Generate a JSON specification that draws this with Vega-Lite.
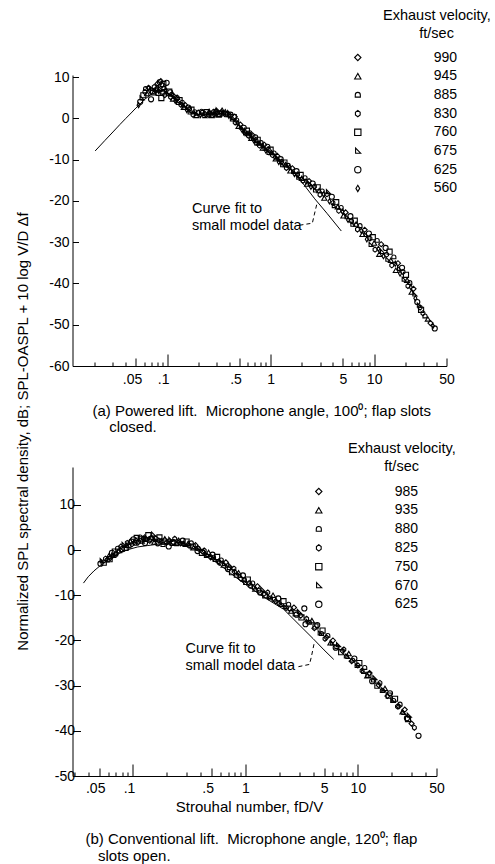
{
  "$schema": "https://vega.github.io/schema/vega-lite/v6.json",
  "background": "white",
  "padding": {"left": 14.5, "top": 9, "right": 0, "bottom": 0},
  "autosize": {"type": "pad"},
  "bounds": "flush",
  "spacing": 101,
  "config": {
    "font": "Liberation Sans",
    "view": {"stroke": null},
    "axis": {"grid": false, "domainColor": "black", "tickColor": "black", "labelColor": "black", "titleColor": "black", "labelFontSize": 14, "titleFontSize": 15, "titleFontWeight": "normal", "domainWidth": 1, "tickWidth": 1, "labelFlush": false, "labelOverlap": false},
    "legend": {"labelColor": "black", "titleColor": "black"},
    "title": {"color": "black", "fontWeight": "normal"}
  },
  "datasets": {
    "ptsA": [
      {"x":0.053,"y":3.2,"v":"560"},{"x":0.055,"y":4.0,"v":"625"},{"x":0.057,"y":4.9,"v":"675"},{"x":0.059,"y":5.6,"v":"760"},
      {"x":0.061,"y":6.4,"v":"830"},{"x":0.062,"y":7.2,"v":"885"},{"x":0.064,"y":6.0,"v":"945"},{"x":0.066,"y":7.4,"v":"990"},
      {"x":0.068,"y":6.8,"v":"560"},{"x":0.070,"y":4.6,"v":"625"},{"x":0.071,"y":7.2,"v":"675"},{"x":0.073,"y":6.5,"v":"760"},
      {"x":0.075,"y":7.6,"v":"830"},{"x":0.077,"y":6.9,"v":"885"},{"x":0.079,"y":7.3,"v":"945"},{"x":0.081,"y":8.4,"v":"990"},
      {"x":0.083,"y":6.6,"v":"560"},{"x":0.085,"y":8.8,"v":"625"},{"x":0.086,"y":7.2,"v":"675"},{"x":0.088,"y":4.9,"v":"760"},
      {"x":0.089,"y":8.1,"v":"830"},{"x":0.091,"y":6.3,"v":"885"},{"x":0.093,"y":7.5,"v":"945"},{"x":0.095,"y":5.6,"v":"990"},
      {"x":0.097,"y":6.9,"v":"560"},{"x":0.099,"y":8.6,"v":"625"},{"x":0.102,"y":5.9,"v":"675"},{"x":0.105,"y":6.5,"v":"760"},
      {"x":0.108,"y":5.2,"v":"830"},{"x":0.111,"y":5.8,"v":"885"},{"x":0.114,"y":4.7,"v":"945"},{"x":0.117,"y":5.3,"v":"990"},
      {"x":0.12,"y":4.2,"v":"560"},{"x":0.124,"y":4.9,"v":"625"},{"x":0.128,"y":3.8,"v":"675"},{"x":0.132,"y":4.4,"v":"760"},
      {"x":0.136,"y":3.3,"v":"830"},{"x":0.14,"y":3.9,"v":"885"},{"x":0.145,"y":2.7,"v":"945"},{"x":0.15,"y":3.2,"v":"990"},
      {"x":0.155,"y":2.0,"v":"560"},{"x":0.16,"y":2.6,"v":"625"},{"x":0.166,"y":1.5,"v":"675"},{"x":0.172,"y":2.1,"v":"760"},
      {"x":0.178,"y":0.9,"v":"830"},{"x":0.185,"y":1.6,"v":"885"},{"x":0.192,"y":0.7,"v":"945"},{"x":0.2,"y":1.4,"v":"990"},
      {"x":0.21,"y":0.8,"v":"560"},{"x":0.22,"y":1.3,"v":"625"},{"x":0.23,"y":0.6,"v":"675"},{"x":0.24,"y":1.5,"v":"760"},
      {"x":0.25,"y":0.9,"v":"830"},{"x":0.26,"y":1.2,"v":"885"},{"x":0.27,"y":0.7,"v":"945"},{"x":0.28,"y":1.6,"v":"990"},
      {"x":0.29,"y":1.0,"v":"560"},{"x":0.30,"y":1.4,"v":"625"},{"x":0.31,"y":2.0,"v":"675"},{"x":0.32,"y":1.1,"v":"760"},
      {"x":0.335,"y":1.5,"v":"830"},{"x":0.35,"y":1.2,"v":"885"},{"x":0.365,"y":1.6,"v":"945"},{"x":0.38,"y":1.0,"v":"990"},
      {"x":0.395,"y":0.6,"v":"560"},{"x":0.41,"y":0.9,"v":"625"},{"x":0.425,"y":-0.2,"v":"675"},{"x":0.44,"y":0.3,"v":"760"},
      {"x":0.455,"y":-1.0,"v":"830"},{"x":0.47,"y":-0.4,"v":"885"},{"x":0.49,"y":-1.9,"v":"945"},{"x":0.51,"y":-1.5,"v":"990"},
      {"x":0.53,"y":-2.8,"v":"560"},{"x":0.55,"y":-2.3,"v":"625"},{"x":0.57,"y":-3.6,"v":"675"},{"x":0.59,"y":-3.0,"v":"760"},
      {"x":0.61,"y":-4.2,"v":"830"},{"x":0.63,"y":-3.5,"v":"885"},{"x":0.65,"y":-4.8,"v":"945"},{"x":0.67,"y":-4.1,"v":"990"},
      {"x":0.69,"y":-5.4,"v":"560"},{"x":0.71,"y":-4.6,"v":"625"},{"x":0.73,"y":-6.0,"v":"675"},{"x":0.75,"y":-5.2,"v":"760"},
      {"x":0.78,"y":-6.6,"v":"830"},{"x":0.81,"y":-5.9,"v":"885"},{"x":0.84,"y":-7.2,"v":"945"},{"x":0.87,"y":-6.4,"v":"990"},
      {"x":0.9,"y":-7.8,"v":"560"},{"x":0.93,"y":-6.9,"v":"625"},{"x":0.96,"y":-8.3,"v":"675"},{"x":1.0,"y":-7.6,"v":"760"},
      {"x":1.04,"y":-8.9,"v":"830"},{"x":1.08,"y":-8.4,"v":"885"},{"x":1.12,"y":-9.8,"v":"945"},{"x":1.16,"y":-9.1,"v":"990"},
      {"x":1.2,"y":-10.6,"v":"560"},{"x":1.25,"y":-9.9,"v":"625"},{"x":1.3,"y":-11.3,"v":"675"},{"x":1.36,"y":-10.7,"v":"760"},
      {"x":1.42,"y":-12.0,"v":"830"},{"x":1.48,"y":-11.4,"v":"885"},{"x":1.55,"y":-12.7,"v":"945"},{"x":1.62,"y":-12.1,"v":"990"},
      {"x":1.7,"y":-13.5,"v":"560"},{"x":1.78,"y":-12.8,"v":"625"},{"x":1.86,"y":-14.3,"v":"675"},{"x":1.95,"y":-13.7,"v":"760"},
      {"x":2.05,"y":-15.1,"v":"830"},{"x":2.15,"y":-14.4,"v":"885"},{"x":2.25,"y":-15.9,"v":"945"},{"x":2.35,"y":-15.2,"v":"990"},
      {"x":2.45,"y":-16.6,"v":"560"},{"x":2.55,"y":-15.8,"v":"625"},{"x":2.7,"y":-17.4,"v":"675"},{"x":2.85,"y":-16.7,"v":"760"},
      {"x":3.0,"y":-18.5,"v":"830"},{"x":3.15,"y":-17.6,"v":"885"},{"x":3.3,"y":-19.3,"v":"945"},{"x":3.5,"y":-18.4,"v":"990"},
      {"x":3.7,"y":-20.1,"v":"560"},{"x":3.9,"y":-19.0,"v":"625"},{"x":4.1,"y":-21.2,"v":"675"},{"x":4.3,"y":-20.3,"v":"760"},
      {"x":4.55,"y":-22.4,"v":"830"},{"x":4.8,"y":-21.6,"v":"885"},{"x":5.05,"y":-23.6,"v":"945"},{"x":5.3,"y":-22.8,"v":"990"},
      {"x":5.6,"y":-24.6,"v":"560"},{"x":5.9,"y":-23.7,"v":"625"},{"x":6.2,"y":-25.7,"v":"675"},{"x":6.5,"y":-24.8,"v":"760"},
      {"x":6.9,"y":-26.9,"v":"830"},{"x":7.3,"y":-26.0,"v":"885"},{"x":7.7,"y":-28.1,"v":"945"},{"x":8.1,"y":-27.0,"v":"990"},
      {"x":8.5,"y":-29.3,"v":"560"},{"x":8.9,"y":-27.9,"v":"625"},{"x":9.3,"y":-30.6,"v":"675"},{"x":9.7,"y":-28.8,"v":"760"},
      {"x":10.2,"y":-31.8,"v":"830"},{"x":10.7,"y":-29.6,"v":"885"},{"x":11.2,"y":-32.9,"v":"945"},{"x":11.7,"y":-30.5,"v":"990"},
      {"x":12.3,"y":-33.4,"v":"560"},{"x":12.9,"y":-31.4,"v":"625"},{"x":13.5,"y":-34.2,"v":"675"},{"x":14.1,"y":-32.3,"v":"760"},
      {"x":14.8,"y":-35.6,"v":"830"},{"x":15.5,"y":-33.6,"v":"885"},{"x":16.2,"y":-36.8,"v":"945"},{"x":17.0,"y":-35.1,"v":"990"},
      {"x":17.8,"y":-37.6,"v":"560"},{"x":18.6,"y":-36.2,"v":"625"},{"x":19.4,"y":-39.0,"v":"675"},{"x":20.3,"y":-37.9,"v":"760"},
      {"x":21.2,"y":-40.6,"v":"830"},{"x":22.1,"y":-39.8,"v":"885"},{"x":23.0,"y":-42.1,"v":"945"},{"x":24.0,"y":-41.3,"v":"990"},
      {"x":25.0,"y":-43.6,"v":"560"},{"x":26.1,"y":-44.5,"v":"625"},{"x":27.2,"y":-45.3,"v":"675"},{"x":28.4,"y":-46.4,"v":"760"},
      {"x":29.6,"y":-47.2,"v":"830"},{"x":31.0,"y":-47.9,"v":"885"},{"x":33.0,"y":-48.6,"v":"945"},{"x":35.0,"y":-49.6,"v":"990"},
      {"x":37.0,"y":-50.3,"v":"560"},{"x":38.5,"y":-50.9,"v":"625"},
      {"x":0.074,"y":6.2,"v":"945"},{"x":0.082,"y":6.0,"v":"885"},{"x":0.092,"y":8.3,"v":"760"},{"x":0.087,"y":9.0,"v":"990"},
      {"x":0.107,"y":6.3,"v":"625"},{"x":0.125,"y":5.1,"v":"945"},{"x":0.142,"y":3.1,"v":"560"},{"x":0.165,"y":2.3,"v":"830"},
      {"x":0.19,"y":1.2,"v":"675"},{"x":0.215,"y":1.7,"v":"885"},{"x":0.235,"y":1.0,"v":"990"},{"x":0.255,"y":1.6,"v":"560"},
      {"x":0.275,"y":0.9,"v":"625"},{"x":0.295,"y":1.7,"v":"830"},{"x":0.315,"y":0.8,"v":"945"},{"x":0.34,"y":1.9,"v":"560"},
      {"x":0.37,"y":1.0,"v":"625"},{"x":0.4,"y":1.3,"v":"675"},{"x":0.45,"y":0.4,"v":"990"},{"x":0.48,"y":-1.2,"v":"560"},
      {"x":0.52,"y":-2.2,"v":"675"},{"x":0.56,"y":-3.3,"v":"830"},{"x":0.6,"y":-3.7,"v":"945"},{"x":0.64,"y":-4.0,"v":"560"},
      {"x":0.68,"y":-4.9,"v":"675"},{"x":0.72,"y":-5.3,"v":"830"},{"x":0.77,"y":-6.0,"v":"945"},{"x":0.83,"y":-6.6,"v":"560"},
      {"x":0.88,"y":-7.3,"v":"675"},{"x":0.95,"y":-7.5,"v":"830"},{"x":1.02,"y":-8.3,"v":"945"},{"x":1.1,"y":-9.4,"v":"560"},
      {"x":1.18,"y":-9.7,"v":"675"},{"x":1.28,"y":-10.5,"v":"830"},{"x":1.4,"y":-11.2,"v":"945"},{"x":1.52,"y":-11.9,"v":"560"},
      {"x":1.66,"y":-12.9,"v":"675"},{"x":1.82,"y":-13.6,"v":"830"},{"x":2.0,"y":-14.5,"v":"945"},{"x":2.2,"y":-15.3,"v":"560"},
      {"x":2.4,"y":-15.9,"v":"675"},{"x":2.65,"y":-16.5,"v":"830"},{"x":2.95,"y":-17.5,"v":"945"},{"x":3.25,"y":-18.4,"v":"560"},
      {"x":3.6,"y":-17.8,"v":"675"},{"x":4.0,"y":-20.5,"v":"830"},{"x":4.45,"y":-21.4,"v":"945"},{"x":4.95,"y":-22.6,"v":"560"},
      {"x":5.45,"y":-23.9,"v":"675"},{"x":6.05,"y":-24.9,"v":"830"},{"x":6.7,"y":-25.6,"v":"945"},{"x":7.5,"y":-27.2,"v":"560"},
      {"x":8.3,"y":-28.2,"v":"675"},{"x":9.1,"y":-29.1,"v":"830"},{"x":10.0,"y":-30.2,"v":"945"},{"x":11.0,"y":-31.6,"v":"560"},
      {"x":12.0,"y":-32.3,"v":"675"},{"x":13.2,"y":-33.0,"v":"830"},{"x":14.5,"y":-34.4,"v":"945"},{"x":16.0,"y":-35.2,"v":"560"},
      {"x":17.5,"y":-36.4,"v":"675"},{"x":19.0,"y":-37.2,"v":"830"},{"x":20.8,"y":-39.2,"v":"945"},{"x":22.6,"y":-40.9,"v":"560"},
      {"x":24.6,"y":-42.6,"v":"675"},{"x":27.8,"y":-45.8,"v":"830"}
    ],
    "curveA": [
      {"x":0.0202,"y":-7.9},{"x":0.025,"y":-5.4},{"x":0.03,"y":-3.3},{"x":0.035,"y":-1.5},{"x":0.04,"y":0.0},
      {"x":0.045,"y":1.3},{"x":0.05,"y":2.5},{"x":0.055,"y":3.5},{"x":0.06,"y":4.5},{"x":0.07,"y":5.8},
      {"x":0.08,"y":6.4},{"x":0.09,"y":6.5},{"x":0.1,"y":6.2},{"x":0.12,"y":5.0},{"x":0.14,"y":3.5},
      {"x":0.16,"y":2.3},{"x":0.18,"y":1.4},{"x":0.2,"y":1.0},{"x":0.25,"y":1.0},{"x":0.3,"y":1.1},
      {"x":0.35,"y":1.2},{"x":0.4,"y":0.5},{"x":0.5,"y":-1.8},{"x":0.6,"y":-3.8},{"x":0.8,"y":-6.3},
      {"x":1.0,"y":-8.1},{"x":1.5,"y":-11.8},{"x":2.0,"y":-15.4},{"x":2.67,"y":-19.5},{"x":3.5,"y":-23.0},{"x":4.82,"y":-27.3}
    ],
    "ptsB": [
      {"x":0.0514,"y":-3.0,"v":"625"},{"x":0.053,"y":-2.4,"v":"670"},{"x":0.055,"y":-2.8,"v":"750"},{"x":0.057,"y":-1.9,"v":"825"},
      {"x":0.059,"y":-2.2,"v":"880"},{"x":0.061,"y":-1.3,"v":"935"},{"x":0.063,"y":-1.7,"v":"985"},{"x":0.065,"y":-0.6,"v":"625"},
      {"x":0.067,"y":-1.2,"v":"670"},{"x":0.069,"y":-0.3,"v":"750"},{"x":0.071,"y":-0.8,"v":"825"},{"x":0.073,"y":0.4,"v":"880"},
      {"x":0.075,"y":-0.1,"v":"935"},{"x":0.078,"y":0.8,"v":"985"},{"x":0.08,"y":0.2,"v":"625"},{"x":0.083,"y":1.2,"v":"670"},
      {"x":0.086,"y":0.5,"v":"750"},{"x":0.089,"y":1.6,"v":"825"},{"x":0.092,"y":0.9,"v":"880"},{"x":0.095,"y":2.0,"v":"935"},
      {"x":0.098,"y":1.3,"v":"985"},{"x":0.101,"y":2.4,"v":"625"},{"x":0.105,"y":1.5,"v":"670"},{"x":0.108,"y":2.7,"v":"750"},
      {"x":0.112,"y":1.8,"v":"825"},{"x":0.116,"y":2.9,"v":"880"},{"x":0.12,"y":2.0,"v":"935"},{"x":0.124,"y":2.6,"v":"985"},
      {"x":0.128,"y":1.6,"v":"625"},{"x":0.132,"y":2.8,"v":"670"},{"x":0.137,"y":3.3,"v":"750"},{"x":0.141,"y":2.1,"v":"825"},
      {"x":0.146,"y":2.7,"v":"880"},{"x":0.152,"y":3.5,"v":"670"},{"x":0.155,"y":1.8,"v":"935"},{"x":0.16,"y":2.6,"v":"985"},
      {"x":0.166,"y":1.5,"v":"625"},{"x":0.172,"y":2.8,"v":"750"},{"x":0.178,"y":2.0,"v":"825"},{"x":0.185,"y":1.2,"v":"880"},
      {"x":0.192,"y":2.5,"v":"935"},{"x":0.2,"y":1.7,"v":"985"},{"x":0.208,"y":0.8,"v":"625"},{"x":0.216,"y":2.3,"v":"670"},
      {"x":0.225,"y":1.6,"v":"750"},{"x":0.235,"y":2.5,"v":"825"},{"x":0.245,"y":1.4,"v":"880"},{"x":0.255,"y":2.2,"v":"935"},
      {"x":0.265,"y":1.5,"v":"985"},{"x":0.277,"y":2.1,"v":"625"},{"x":0.29,"y":1.2,"v":"670"},{"x":0.3,"y":1.9,"v":"750"},
      {"x":0.315,"y":1.0,"v":"825"},{"x":0.33,"y":1.6,"v":"880"},{"x":0.345,"y":0.5,"v":"935"},{"x":0.36,"y":1.1,"v":"985"},
      {"x":0.375,"y":-0.2,"v":"625"},{"x":0.39,"y":0.5,"v":"670"},{"x":0.41,"y":-0.6,"v":"750"},{"x":0.43,"y":-0.1,"v":"825"},
      {"x":0.45,"y":-1.2,"v":"880"},{"x":0.47,"y":-0.5,"v":"935"},{"x":0.49,"y":-1.6,"v":"985"},{"x":0.51,"y":-1.0,"v":"625"},
      {"x":0.535,"y":-2.1,"v":"670"},{"x":0.56,"y":-1.5,"v":"750"},{"x":0.585,"y":-2.8,"v":"825"},{"x":0.61,"y":-2.2,"v":"880"},
      {"x":0.64,"y":-3.3,"v":"935"},{"x":0.67,"y":-2.7,"v":"985"},{"x":0.70,"y":-4.2,"v":"625"},{"x":0.73,"y":-3.4,"v":"670"},
      {"x":0.76,"y":-4.9,"v":"750"},{"x":0.79,"y":-4.1,"v":"825"},{"x":0.83,"y":-5.6,"v":"880"},{"x":0.87,"y":-5.0,"v":"935"},
      {"x":0.91,"y":-6.3,"v":"985"},{"x":0.95,"y":-5.6,"v":"625"},{"x":1.0,"y":-7.2,"v":"670"},{"x":1.05,"y":-6.5,"v":"750"},
      {"x":1.1,"y":-7.9,"v":"825"},{"x":1.16,"y":-7.3,"v":"880"},{"x":1.22,"y":-8.6,"v":"935"},{"x":1.28,"y":-8.0,"v":"985"},
      {"x":1.35,"y":-9.4,"v":"625"},{"x":1.42,"y":-8.7,"v":"670"},{"x":1.5,"y":-10.0,"v":"750"},{"x":1.58,"y":-9.4,"v":"825"},
      {"x":1.67,"y":-10.6,"v":"880"},{"x":1.76,"y":-10.0,"v":"935"},{"x":1.86,"y":-11.3,"v":"985"},{"x":1.96,"y":-10.7,"v":"625"},
      {"x":2.07,"y":-12.1,"v":"670"},{"x":2.18,"y":-11.3,"v":"750"},{"x":2.3,"y":-12.8,"v":"825"},{"x":2.42,"y":-12.0,"v":"880"},
      {"x":2.55,"y":-13.5,"v":"935"},{"x":2.7,"y":-12.7,"v":"985"},{"x":2.85,"y":-14.3,"v":"625"},{"x":3.0,"y":-13.6,"v":"670"},
      {"x":3.15,"y":-14.9,"v":"750"},{"x":3.34,"y":-12.9,"v":"625"},{"x":3.42,"y":-16.4,"v":"625"},{"x":3.5,"y":-15.2,"v":"825"},
      {"x":3.7,"y":-16.0,"v":"880"},{"x":3.9,"y":-15.6,"v":"935"},{"x":4.1,"y":-17.3,"v":"985"},{"x":4.35,"y":-16.6,"v":"625"},
      {"x":4.6,"y":-18.4,"v":"670"},{"x":4.85,"y":-17.8,"v":"750"},{"x":5.1,"y":-19.6,"v":"825"},{"x":5.4,"y":-18.9,"v":"880"},
      {"x":5.7,"y":-20.5,"v":"935"},{"x":6.0,"y":-20.0,"v":"985"},{"x":6.35,"y":-21.6,"v":"625"},{"x":6.7,"y":-21.0,"v":"670"},
      {"x":7.1,"y":-22.6,"v":"750"},{"x":7.5,"y":-22.0,"v":"825"},{"x":7.9,"y":-23.5,"v":"880"},{"x":8.3,"y":-22.9,"v":"935"},
      {"x":8.8,"y":-24.6,"v":"985"},{"x":9.3,"y":-24.0,"v":"625"},{"x":9.8,"y":-25.6,"v":"670"},{"x":10.3,"y":-25.0,"v":"750"},
      {"x":10.9,"y":-26.7,"v":"825"},{"x":11.5,"y":-26.0,"v":"880"},{"x":12.1,"y":-27.8,"v":"935"},{"x":12.7,"y":-27.2,"v":"985"},
      {"x":13.4,"y":-29.0,"v":"625"},{"x":14.1,"y":-28.3,"v":"670"},{"x":14.9,"y":-30.0,"v":"750"},{"x":15.7,"y":-29.4,"v":"825"},
      {"x":16.5,"y":-31.1,"v":"880"},{"x":17.4,"y":-30.6,"v":"935"},{"x":18.3,"y":-32.3,"v":"985"},{"x":19.3,"y":-31.7,"v":"625"},
      {"x":20.3,"y":-33.3,"v":"670"},{"x":21.4,"y":-32.9,"v":"750"},{"x":22.5,"y":-34.6,"v":"825"},{"x":23.7,"y":-34.1,"v":"880"},
      {"x":24.9,"y":-35.8,"v":"935"},{"x":26.1,"y":-35.3,"v":"985"},{"x":27.3,"y":-37.2,"v":"625"},{"x":28.5,"y":-36.6,"v":"670"},
      {"x":31.8,"y":-39.3,"v":"825"},{"x":34.6,"y":-41.1,"v":"625"},
      {"x":0.062,"y":-2.0,"v":"750"},{"x":0.07,"y":-0.9,"v":"880"},{"x":0.079,"y":0.1,"v":"670"},{"x":0.088,"y":1.1,"v":"935"},
      {"x":0.097,"y":1.9,"v":"625"},{"x":0.107,"y":2.1,"v":"985"},{"x":0.118,"y":2.4,"v":"750"},{"x":0.13,"y":2.3,"v":"880"},
      {"x":0.143,"y":2.5,"v":"625"},{"x":0.158,"y":2.3,"v":"670"},{"x":0.17,"y":2.1,"v":"985"},{"x":0.19,"y":1.9,"v":"750"},
      {"x":0.21,"y":2.0,"v":"880"},{"x":0.23,"y":1.8,"v":"625"},{"x":0.26,"y":1.8,"v":"670"},{"x":0.28,"y":1.4,"v":"825"},
      {"x":0.31,"y":1.5,"v":"935"},{"x":0.34,"y":0.8,"v":"750"},{"x":0.38,"y":0.4,"v":"880"},{"x":0.42,"y":-0.4,"v":"985"},
      {"x":0.46,"y":-1.0,"v":"670"},{"x":0.52,"y":-1.6,"v":"880"},{"x":0.58,"y":-2.5,"v":"985"},{"x":0.65,"y":-3.0,"v":"670"},
      {"x":0.72,"y":-3.9,"v":"880"},{"x":0.8,"y":-4.8,"v":"985"},{"x":0.89,"y":-5.6,"v":"670"},{"x":0.98,"y":-6.6,"v":"880"},
      {"x":1.08,"y":-7.3,"v":"985"},{"x":1.2,"y":-8.2,"v":"670"},{"x":1.32,"y":-8.9,"v":"880"},{"x":1.46,"y":-9.7,"v":"985"},
      {"x":1.62,"y":-10.3,"v":"670"},{"x":1.8,"y":-10.9,"v":"880"},{"x":2.0,"y":-11.8,"v":"985"},{"x":2.25,"y":-12.5,"v":"670"},
      {"x":2.5,"y":-13.0,"v":"880"},{"x":2.8,"y":-14.0,"v":"750"},{"x":3.1,"y":-14.5,"v":"985"},{"x":3.6,"y":-15.8,"v":"670"},
      {"x":4.2,"y":-16.9,"v":"750"},{"x":4.75,"y":-18.5,"v":"880"},{"x":5.25,"y":-19.3,"v":"985"},{"x":5.9,"y":-20.6,"v":"670"},
      {"x":6.5,"y":-21.4,"v":"880"},{"x":7.3,"y":-22.3,"v":"985"},{"x":8.1,"y":-23.6,"v":"670"},{"x":9.0,"y":-24.4,"v":"880"},
      {"x":10.0,"y":-25.5,"v":"985"},{"x":11.2,"y":-26.9,"v":"670"},{"x":12.4,"y":-27.6,"v":"750"},{"x":13.8,"y":-28.8,"v":"880"},
      {"x":15.3,"y":-29.9,"v":"985"},{"x":16.9,"y":-31.0,"v":"670"},{"x":18.8,"y":-32.2,"v":"750"},{"x":20.8,"y":-33.3,"v":"880"},
      {"x":23.1,"y":-34.6,"v":"985"},{"x":25.5,"y":-36.0,"v":"670"},{"x":27.9,"y":-37.4,"v":"750"},{"x":30.0,"y":-38.4,"v":"985"}
    ],
    "curveB": [
      {"x":0.0363,"y":-7.3},{"x":0.04,"y":-5.9},{"x":0.045,"y":-4.6},{"x":0.0514,"y":-3.4},{"x":0.06,"y":-2.2},
      {"x":0.07,"y":-1.1},{"x":0.0774,"y":-0.6},{"x":0.09,"y":0.1},{"x":0.11,"y":0.7},{"x":0.134,"y":1.0},
      {"x":0.165,"y":1.3},{"x":0.2,"y":1.4},{"x":0.25,"y":1.3},{"x":0.3,"y":0.9},{"x":0.35,"y":0.3},
      {"x":0.4,"y":-0.5},{"x":0.5,"y":-2.0},{"x":0.6,"y":-3.4},{"x":0.8,"y":-5.8},{"x":1.0,"y":-7.6},
      {"x":1.5,"y":-10.6},{"x":2.19,"y":-13.1},{"x":3.0,"y":-16.5},{"x":4.0,"y":-19.6},{"x":5.0,"y":-22.1},{"x":6.1,"y":-24.2}
    ]
  },
  "vconcat": [
    {
      "width": 374,
      "height": 291,
      "title": {"text": ["(a) Powered lift.\u00a0 Microphone angle, 100⁰; flap slots", "\u200b\u00a0\u00a0\u00a0\u00a0closed."], "orient": "bottom", "frame": "group", "anchor": "start", "dx": 20, "offset": 18, "lineHeight": 16, "fontSize": 15, "fontWeight": "normal", "baseline": "top"},
      "encoding": {
        "y": {"field": "y", "type": "quantitative", "scale": {"domain": [-60, 10.5], "nice": false, "zero": false},
          "axis": {"values": [-60,-50,-40,-30,-20,-10,0,10], "tickSize": -6, "labelPadding": 9.5, "labelExpr": "toString(datum.value)", "labelFontSize": 14, "title": null}}
      },
      "layer": [
        {
          "data": {"name": "ptsA"},
          "mark": {"type": "point", "filled": false, "size": 26, "strokeWidth": 1.1, "color": "black", "opacity": 1},
          "encoding": {
            "x": {"field": "x", "type": "quantitative", "scale": {"type": "log", "domain": [0.0122, 50], "nice": false},
              "axis": {"orient": "bottom", "values": [0.02,0.03,0.04,0.06,0.07,0.08,0.09,0.2,0.3,0.4,0.6,0.7,0.8,0.9,2,3,4,6,7,8,9,20,30,40], "tickSize": -4, "labels": false, "domain": true, "title": null}},
            "shape": {"field": "v", "type": "nominal",
              "scale": {"domain": ["990","945","885","830","760","675","625","560"],
                "range": ["diamond", "triangle-up", "M-0.8,0.7L0.8,0.7L0.8,0A0.8,0.8,0,0,0,-0.8,0Z", "M0,-1L0.75,-0.4L0.75,0.4L0,1L-0.75,0.4L-0.75,-0.4Z", "square", "M-0.7,-0.9L-0.7,0.7L0.9,0.7Z", "circle", "M0,-1L0.6,0L0,1L-0.6,0Z"]},
              "legend": {"orient": "none", "legendX": 278.3, "legendY": -66,
                "title": ["\u200b\u00a0\u00a0\u00a0\u00a0\u00a0\u00a0\u00a0\u00a0Exhaust velocity,", "\u200b\u00a0\u00a0\u00a0\u00a0\u00a0\u00a0\u00a0\u00a0\u00a0\u00a0\u00a0\u00a0\u00a0\u00a0\u00a0\u00a0\u00a0ft/sec"],
                "titleAlign": "left", "titleAnchor": "start", "titleFontSize": 14.5, "titleFontWeight": "normal", "titleLineHeight": 18, "titlePadding": 9, "titleLimit": 400,
                "labelFontSize": 14, "labelOffset": 69, "rowPadding": 4.7, "symbolSize": 40, "symbolStrokeWidth": 1.1, "symbolStrokeColor": "black", "padding": 0}}
          }
        },
        {
          "data": {"name": "curveA"},
          "mark": {"type": "line", "color": "black", "strokeWidth": 1},
          "encoding": {
            "x": {"field": "x", "type": "quantitative", "scale": {"type": "log", "domain": [0.0122, 50], "nice": false},
              "axis": {"orient": "bottom", "values": [0.05, 0.5, 5, 50], "tickSize": -8, "labels": false, "domain": false, "title": null}}
          }
        },
        {
          "data": {"values": [{"x": 0.174, "y": -22.9, "t": "Curve fit to\nsmall model data"}]},
          "mark": {"type": "text", "align": "left", "baseline": "alphabetic", "lineBreak": "\n", "lineHeight": 17, "fontSize": 14.5, "color": "black"},
          "encoding": {
            "x": {"field": "x", "type": "quantitative", "scale": {"type": "log", "domain": [0.0122, 50], "nice": false},
              "axis": {"orient": "bottom", "values": [0.1, 1, 10], "tickSize": -12, "labels": false, "domain": false, "title": null}},
            "text": {"field": "t", "type": "nominal"}
          }
        },
        {
          "data": {"values": [{"x": 1.90, "y": -25.9}, {"x": 2.53, "y": -25.4}, {"x": 2.65, "y": -23.2}, {"x": 2.83, "y": -20.2}]},
          "mark": {"type": "line", "color": "black", "strokeWidth": 1, "strokeDash": [4, 3]},
          "encoding": {
            "x": {"field": "x", "type": "quantitative", "scale": {"type": "log", "domain": [0.0122, 50], "nice": false},
              "axis": {"orient": "bottom", "values": [0.05, 0.1, 0.5, 1, 5, 10, 50], "ticks": false, "labels": true, "domain": false, "labelPadding": 6, "labelFontSize": 14,
                "labelExpr": "datum.value < 1 ? replace(toString(datum.value), '0.', '.') + '\u00a0\u00a0\u200b' : toString(datum.value)", "title": null}}
          }
        }
      ],
      "resolve": {"axis": {"x": "independent"}}
    },
    {
      "width": 364,
      "height": 309,
      "title": {"text": ["(b) Conventional lift.\u00a0 Microphone angle, 120⁰; flap", "\u200b\u00a0\u00a0\u00a0slots open."], "orient": "bottom", "frame": "group", "anchor": "start", "dx": 13, "offset": 18, "lineHeight": 17, "fontSize": 15, "fontWeight": "normal", "baseline": "top"},
      "encoding": {
        "y": {"field": "y", "type": "quantitative", "scale": {"domain": [-50, 18.4], "nice": false, "zero": false},
          "axis": {"values": [-50,-40,-30,-20,-10,0,10], "tickSize": -8, "labelPadding": 6, "labelExpr": "toString(datum.value)", "labelFontSize": 14,
            "title": "Normalized SPL spectral density, dB; SPL-OASPL + 10 log V/D Δf", "titleX": -50, "titleY": -36, "titleAngle": 270, "titleBaseline": "middle", "titleAlign": "center", "titleFontSize": 15}}
      },
      "layer": [
        {
          "data": {"name": "ptsB"},
          "mark": {"type": "point", "filled": false, "size": 26, "strokeWidth": 1.1, "color": "black", "opacity": 1},
          "encoding": {
            "x": {"field": "x", "type": "quantitative", "scale": {"type": "log", "domain": [0.029, 50], "nice": false},
              "axis": {"orient": "bottom", "values": [0.03,0.04,0.06,0.07,0.08,0.09,0.2,0.3,0.4,0.6,0.7,0.8,0.9,2,3,4,6,7,8,9,20,30,40], "tickSize": -4, "labels": false, "domain": true, "title": null}},
            "shape": {"field": "v", "type": "nominal",
              "scale": {"domain": ["985","935","880","825","750","670","625"],
                "range": ["diamond", "triangle-up", "M-0.8,0.7L0.8,0.7L0.8,0A0.8,0.8,0,0,0,-0.8,0Z", "M0,-1L0.75,-0.4L0.75,0.4L0,1L-0.75,0.4L-0.75,-0.4Z", "square", "M-0.7,-0.9L-0.7,0.7L0.9,0.7Z", "circle"]},
              "legend": {"orient": "none", "legendX": 239.3, "legendY": -25,
                "title": ["\u200b\u00a0\u00a0\u00a0\u00a0\u00a0\u00a0\u00a0\u00a0\u00a0Exhaust velocity,", "\u200b\u00a0\u00a0\u00a0\u00a0\u00a0\u00a0\u00a0\u00a0\u00a0\u00a0\u00a0\u00a0\u00a0\u00a0\u00a0\u00a0\u00a0\u00a0ft/sec"],
                "titleAlign": "left", "titleAnchor": "start", "titleFontSize": 14.5, "titleFontWeight": "normal", "titleLineHeight": 18, "titlePadding": 10, "titleLimit": 400,
                "labelFontSize": 14, "labelOffset": 69, "rowPadding": 4.8, "symbolSize": 40, "symbolStrokeWidth": 1.1, "symbolStrokeColor": "black", "padding": 0}}
          }
        },
        {
          "data": {"name": "curveB"},
          "mark": {"type": "line", "color": "black", "strokeWidth": 1},
          "encoding": {
            "x": {"field": "x", "type": "quantitative", "scale": {"type": "log", "domain": [0.029, 50], "nice": false},
              "axis": {"orient": "bottom", "values": [0.05, 0.5, 5, 50], "tickSize": -8, "labels": false, "domain": false, "title": null}}
          }
        },
        {
          "data": {"values": [{"x": 0.293, "y": -22.7, "t": "Curve fit to\nsmall model data"}]},
          "mark": {"type": "text", "align": "left", "baseline": "alphabetic", "lineBreak": "\n", "lineHeight": 17, "fontSize": 14.5, "color": "black"},
          "encoding": {
            "x": {"field": "x", "type": "quantitative", "scale": {"type": "log", "domain": [0.029, 50], "nice": false},
              "axis": {"orient": "bottom", "values": [0.1, 1, 10], "tickSize": -12, "labels": false, "domain": false, "title": null}},
            "text": {"field": "t", "type": "nominal"}
          }
        },
        {
          "data": {"values": [{"x": 2.96, "y": -25.8}, {"x": 3.71, "y": -25.3}, {"x": 3.86, "y": -23.6}, {"x": 4.10, "y": -20.4}]},
          "mark": {"type": "line", "color": "black", "strokeWidth": 1, "strokeDash": [4, 3]},
          "encoding": {
            "x": {"field": "x", "type": "quantitative", "scale": {"type": "log", "domain": [0.029, 50], "nice": false},
              "axis": {"orient": "bottom", "values": [0.05, 0.1, 0.5, 1, 5, 10, 50], "ticks": false, "labels": true, "domain": false, "labelPadding": 5, "labelFontSize": 14,
                "labelExpr": "datum.value < 1 ? replace(toString(datum.value), '0.', '.') + '\u00a0\u00a0\u200b' : toString(datum.value)",
                "title": "Strouhal number, fD/V", "titleX": 176.5, "titlePadding": 4, "titleFontSize": 15, "titleBaseline": "top"}}
          }
        }
      ],
      "resolve": {"axis": {"x": "independent"}}
    }
  ],
  "resolve": {"scale": {"x": "independent", "y": "independent", "shape": "independent"}, "legend": {"shape": "independent"}}
}
